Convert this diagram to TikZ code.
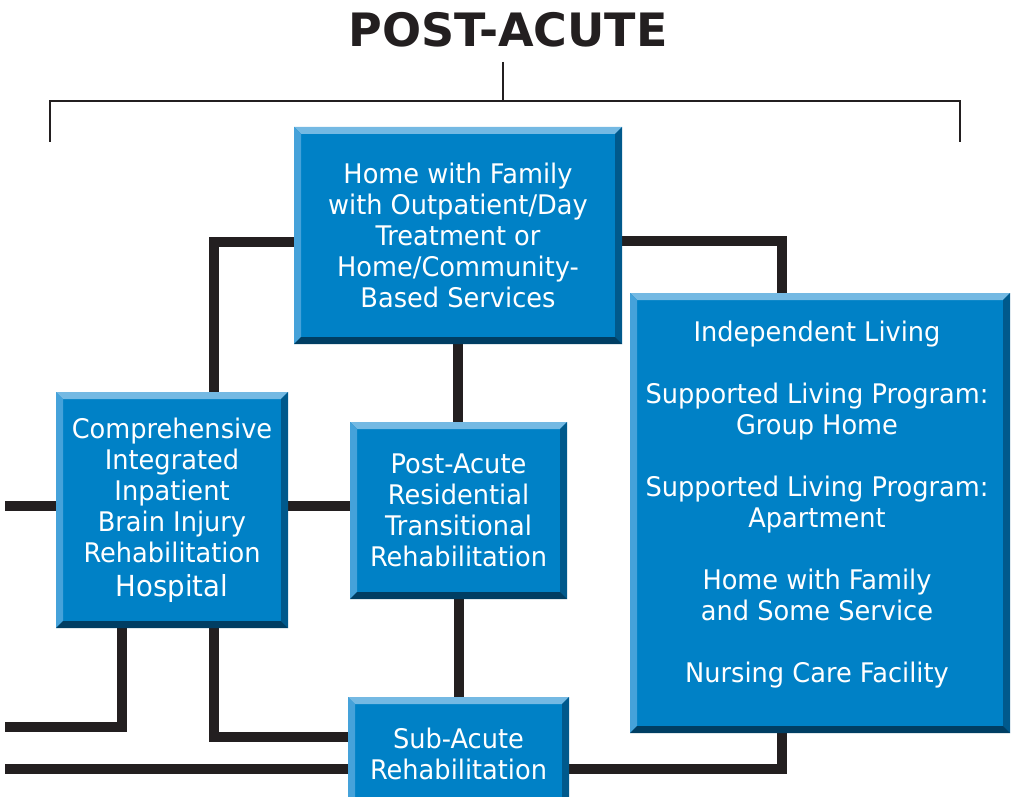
\documentclass[tikz,border=0pt]{standalone}
\usepackage{fontspec}
\setmainfont{DejaVu Sans}[FakeStretch=0.95]
\newfontfamily\titlefont{DejaVu Sans}
\usetikzlibrary{calc}
\definecolor{boxblue}{HTML}{0081C6}
\definecolor{bevtop}{HTML}{74B9E3}
\definecolor{bevleft}{HTML}{45A2DA}
\definecolor{bevright}{HTML}{00598C}
\definecolor{bevbottom}{HTML}{003E63}
\definecolor{ink}{HTML}{231F20}
\pgfdeclarelayer{background}
\pgfsetlayers{background,main}
\tikzset{
  bevelbox/.style={fill=boxblue, text=white, inner sep=0pt, align=center,
    font=\fontsize{27}{31}\selectfont,
    path picture={
      \coordinate (pnw) at (path picture bounding box.north west);
      \coordinate (pne) at (path picture bounding box.north east);
      \coordinate (psw) at (path picture bounding box.south west);
      \coordinate (pse) at (path picture bounding box.south east);
      \fill[bevtop] (pnw) -- (pne) -- ([shift={(-7pt,-7pt)}]pne) -- ([shift={(7pt,-7pt)}]pnw) -- cycle;
      \fill[bevleft] (pnw) -- ([shift={(7pt,-7pt)}]pnw) -- ([shift={(7pt,7pt)}]psw) -- (psw) -- cycle;
      \fill[bevright] (pne) -- (pse) -- ([shift={(-7pt,7pt)}]pse) -- ([shift={(-7pt,-7pt)}]pne) -- cycle;
      \fill[bevbottom] (psw) -- (pse) -- ([shift={(-7pt,7pt)}]pse) -- ([shift={(7pt,7pt)}]psw) -- cycle;
    }},
  conn/.style={draw=ink, line width=10pt, line join=miter},
  thin/.style={draw=ink, line width=2pt},
  boxtext/.style={text=white, align=center, inner sep=0pt, font=\fontsize{27}{31}\selectfont}
}
\begin{document}
\begin{tikzpicture}[x=1pt,y=1pt]
\useasboundingbox (0,0) rectangle (1012,-797);
\clip (0,0) rectangle (1012,-797);

% title and bracket
\node[font=\titlefont\bfseries\fontsize{46}{50}\selectfont, text=ink, inner sep=0pt] (title) at (508,-30) {POST-ACUTE};
\coordinate (stemtop) at (503,-62);
\coordinate (stembot) at (503,-101);
\coordinate (brl) at (50,-142);
\coordinate (brr) at (960,-142);
\draw[thin] (stemtop) -- (stembot);
\draw[thin, line join=miter] (brl) -- (brl |- stembot) -- (brr |- stembot) -- (brr);

% boxes
\node[bevelbox, minimum width=328pt, minimum height=217pt] (home) at (458,-235.5)
  {Home with Family\\with Outpatient/Day\\Treatment or\\Home/Community-\\Based Services};
\node[bevelbox, minimum width=232pt, minimum height=236pt] (comp) at (172,-510)
  {Comprehensive\\Integrated\\Inpatient\\Brain Injury\\Rehabilitation\\[3pt]{\fontsize{29}{31}\selectfont Hospital}};
\node[bevelbox, minimum width=217pt, minimum height=177pt] (res) at (458.5,-510.5)
  {Post-Acute\\Residential\\Transitional\\Rehabilitation};
\node[bevelbox, minimum width=221pt, minimum height=113pt] (sub) at (458.5,-753.5)
  {Sub-Acute\\Rehabilitation};
\node[bevelbox, minimum width=380pt, minimum height=440pt] (indep) at (820,-513) {};
\node[boxtext] (indeptxt) at (817,-505)
  {Independent Living\\[31pt]Supported Living Program:\\Group Home\\[31pt]Supported Living Program:\\Apartment\\[31pt]Home with Family\\and Some Service\\[31pt]Nursing Care Facility};

% connectors
\coordinate (k5) at (214,-242);
\coordinate (k6) at (782,-241);
\coordinate (k7) at (300,-506);
\coordinate (e0) at (5,-506);
\coordinate (k1) at (122,-727);
\coordinate (e1) at (5,-727);
\coordinate (k2) at (214,-737);
\coordinate (e3) at (5,-769);
\coordinate (k4) at (782,-769);
\begin{pgfonlayer}{background}
\draw[conn] (home.west |- k5) -- (k5) -- (comp.north -| k5);
\draw[conn] (home.east |- k6) -- (k6) -- (indep.north -| k6);
\draw[conn] (home.south) -- (home.south |- res.north);
\draw[conn] (res.south) -- (res.south |- sub.north);
\draw[conn] (comp.east |- k7) -- (res.west |- k7);
\draw[conn] (e0) -- (comp.west |- e0);
\draw[conn] (comp.south -| k1) -- (k1) -- (e1);
\draw[conn] (comp.south -| k2) -- (k2) -- (sub.west |- k2);
\draw[conn] (e3) -- (sub.west |- e3);
\draw[conn] (sub.east |- k4) -- (k4) -- (indep.south -| k4);
\end{pgfonlayer}
\end{tikzpicture}
\end{document}
